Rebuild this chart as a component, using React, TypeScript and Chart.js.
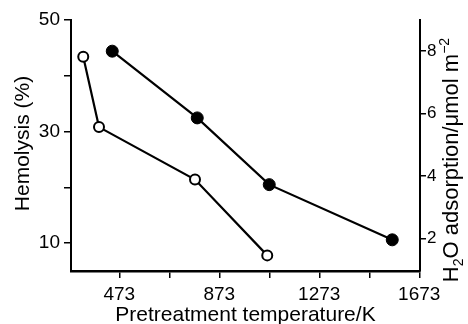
import React, { useEffect, useRef } from "react";
import { Chart, registerables } from "chart.js";

Chart.register(...registerables);

// ---- data ----
const openTemps = [329, 392, 776, 1065];
const hemolysis = [43.4, 30.8, 21.4, 7.8];
const filledTemps = [445, 785, 1073, 1565];
const h2oAdsorption = [8.0, 5.86, 3.72, 1.95];

const xTicks = [473, 673, 873, 1073, 1273, 1473, 1673];
const xLabeled = [473, 873, 1273, 1673];
const leftTicks = [10, 20, 30, 40, 50];
const leftLabeled = [10, 30, 50];
const rightTicks = [2, 4, 6, 8];

const xTitle = "Pretreatment temperature/K";
const leftTitle = "Hemolysis (%)";
const rightTitleParts = [
  { t: "H", k: "n" },
  { t: "2", k: "sub" },
  { t: "O adsorption/\u03bcmol m", k: "n" },
  { t: "\u22122", k: "sup" },
];

const FONT = "'Liberation Sans', Arial, Helvetica, sans-serif";

const titlePlugin = {
  id: "axisTitles",
  afterDraw(chart: any) {
    const ctx = chart.ctx as CanvasRenderingContext2D;
    const area = chart.chartArea;
    ctx.save();
    ctx.fillStyle = "#000";
    ctx.textBaseline = "middle";
    ctx.textAlign = "center";
    // bottom title
    ctx.font = `21px ${FONT}`;
    ctx.fillText(xTitle, (area.left + area.right) / 2, 315);
    // left title
    ctx.save();
    ctx.translate(23, (area.top + area.bottom) / 2 - 2);
    ctx.rotate(-Math.PI / 2);
    ctx.font = `21px ${FONT}`;
    ctx.fillText(leftTitle, 0, 0);
    ctx.restore();
    // right title with sub/superscripts
    const base = 22;
    const small = Math.round(base * 0.65);
    ctx.save();
    ctx.translate(450, 160);
    ctx.rotate(-Math.PI / 2);
    ctx.textAlign = "left";
    ctx.textBaseline = "alphabetic";
    let total = 0;
    const widths: number[] = [];
    for (const p of rightTitleParts) {
      ctx.font = `${p.k === "n" ? base : small}px ${FONT}`;
      const w = ctx.measureText(p.t).width;
      widths.push(w);
      total += w;
    }
    let x = -total / 2;
    const baseY = base * 0.36;
    rightTitleParts.forEach((p, i) => {
      ctx.font = `${p.k === "n" ? base : small}px ${FONT}`;
      let y = baseY;
      if (p.k === "sub") y = baseY + base * 0.22;
      if (p.k === "sup") y = baseY - base * 0.42;
      ctx.fillText(p.t, x, y);
      x += widths[i];
    });
    ctx.restore();
    ctx.restore();
  },
};

export default function App() {
  const ref = useRef<HTMLCanvasElement | null>(null);
  useEffect(() => {
    if (!ref.current) return;
    const tickFont = { family: FONT, size: 19 };
    const chart = new Chart(ref.current, {
      type: "line",
      data: {
        datasets: [
          {
            label: "Hemolysis",
            data: openTemps.map((t, i) => ({ x: t, y: hemolysis[i] })),
            yAxisID: "yL",
            borderColor: "#000",
            borderWidth: 2.2,
            pointRadius: 5,
            pointBorderWidth: 2,
            pointBackgroundColor: "#fff",
            pointBorderColor: "#000",
            showLine: true,
            tension: 0,
          },
          {
            label: "H2O adsorption",
            data: filledTemps.map((t, i) => ({ x: t, y: h2oAdsorption[i] })),
            yAxisID: "yR",
            borderColor: "#000",
            borderWidth: 2.2,
            pointRadius: 6,
            pointBorderWidth: 1,
            pointBackgroundColor: "#000",
            pointBorderColor: "#000",
            showLine: true,
            tension: 0,
          },
        ],
      },
      options: {
        animation: false,
        responsive: false,
        devicePixelRatio: 1,
        layout: { padding: { top: 20, left: 0, right: 0, bottom: 0 } },
        plugins: { legend: { display: false }, tooltip: { enabled: false } },
        scales: {
          x: {
            type: "linear",
            position: "bottom",
            min: 280,
            max: 1676,
            afterBuildTicks: (s: any) => {
              s.ticks = xTicks.map((v) => ({ value: v }));
            },
            afterFit: (s: any) => {
              s.height = 53;
            },
            ticks: {
              color: "#000",
              font: tickFont,
              padding: 5,
              maxRotation: 0,
              autoSkip: false,
              callback: (v: any) => (xLabeled.includes(Number(v)) ? String(v) : ""),
            },
            grid: { drawOnChartArea: false, drawTicks: true, tickLength: 7, color: "#000", lineWidth: 1.5 },
            border: { display: true, color: "#000", width: 2.5 },
          },
          yL: {
            type: "linear",
            position: "left",
            min: 5,
            max: 50,
            afterBuildTicks: (s: any) => {
              s.ticks = leftTicks.map((v) => ({ value: v }));
            },
            afterFit: (s: any) => {
              s.width = 71;
            },
            ticks: {
              color: "#000",
              font: tickFont,
              padding: 4,
              autoSkip: false,
              callback: (v: any) => (leftLabeled.includes(Number(v)) ? String(v) : ""),
            },
            grid: { drawOnChartArea: false, drawTicks: true, tickLength: 7, color: "#000", lineWidth: 1.5 },
            border: { display: true, color: "#000", width: 2 },
          },
          yR: {
            type: "linear",
            position: "right",
            min: 0.95,
            max: 9.0,
            afterBuildTicks: (s: any) => {
              s.ticks = rightTicks.map((v) => ({ value: v }));
            },
            afterFit: (s: any) => {
              s.width = 48;
            },
            ticks: {
              color: "#000",
              font: { family: FONT, size: 17 },
              padding: 1,
              autoSkip: false,
              callback: (v: any) => String(v),
            },
            grid: { drawOnChartArea: false, drawTicks: true, tickLength: 6, color: "#000", lineWidth: 1.5 },
            border: { display: true, color: "#000", width: 2 },
          },
        },
      },
      plugins: [titlePlugin],
    } as any);
    return () => chart.destroy();
  }, []);
  return (
    <div style={{ position: "absolute", left: 0, top: 0, width: 468, height: 324, background: "#fff" }}>
      <canvas ref={ref} width={468} height={324} style={{ display: "block", width: 468, height: 324 }} />
    </div>
  );
}
